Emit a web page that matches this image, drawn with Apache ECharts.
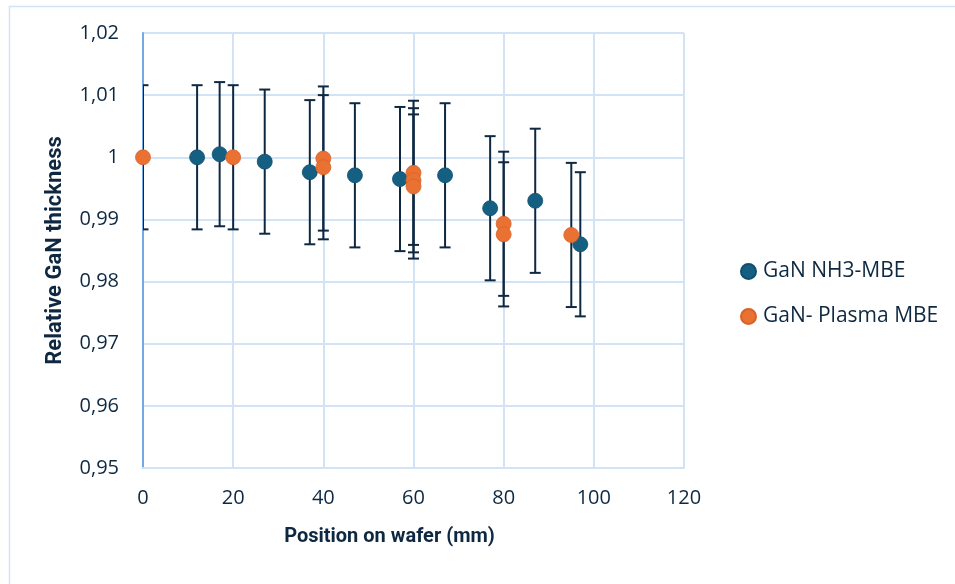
<!DOCTYPE html>
<html>
<head>
<meta charset="utf-8">
<script src="https://cdn.jsdelivr.net/npm/echarts@6/dist/echarts.min.js"></script>
<style>html,body{margin:0;padding:0;background:#fff}#c{width:955px;height:584px}</style>
</head>
<body>
<div id="c"></div>
<script>
// Data
const nh3Name = 'GaN NH3-MBE';
const nh3X = [12, 17, 27, 37, 47, 57, 67, 77, 87, 97];
const nh3Y = [1.0000, 1.0005, 0.9993, 0.9976, 0.9971, 0.9965, 0.9971, 0.9918, 0.9930, 0.9860];
const nh3Err = [0.0116, 0.0116, 0.0116, 0.0116, 0.0116, 0.0116, 0.0116, 0.0116, 0.0116, 0.0116];

const plasmaName = 'GaN- Plasma MBE';
const plasmaX = [0, 20, 40, 40, 60, 60, 60, 80, 80, 95];
const plasmaY = [1.0000, 1.0000, 0.9998, 0.9984, 0.9975, 0.9963, 0.9953, 0.9893, 0.9876, 0.9875];
const plasmaErr = [0.0116, 0.0116, 0.0116, 0.0116, 0.0116, 0.0116, 0.0116, 0.0116, 0.0116, 0.0116];

const xTitle = 'Position on wafer (mm)';
const yTitle = 'Relative GaN thickness';

const FONT = 'Open Sans';
const TFONT = 'Roboto';
const TXT = '#0E2841';
const GRID = '#d3e3f6';

function pts(xs, ys) { return xs.map((x, i) => [x, ys[i]]); }
function errData(xs, ys, es) { return xs.map((x, i) => [x, ys[i] - es[i], ys[i] + es[i]]); }

function errRender(params, api) {
  const x = api.value(0);
  const lo = api.coord([x, api.value(1)]);
  const hi = api.coord([x, api.value(2)]);
  const hw = 5.5;
  const st = { stroke: '#0E2841', lineWidth: 2 };
  return {
    type: 'group',
    children: [
      { type: 'line', shape: { x1: lo[0], y1: lo[1], x2: hi[0], y2: hi[1] }, style: st },
      { type: 'line', shape: { x1: lo[0] - hw, y1: lo[1], x2: lo[0] + hw, y2: lo[1] }, style: st },
      { type: 'line', shape: { x1: hi[0] - hw, y1: hi[1], x2: hi[0] + hw, y2: hi[1] }, style: st }
    ]
  };
}

function fmt(v) {
  return (Math.round(v * 100) / 100).toString().replace('.', ',');
}

const chart = echarts.init(document.getElementById('c'), null, { renderer: 'canvas' });
chart.setOption({
  animation: false,
  textStyle: { fontFamily: FONT, color: TXT },
  graphic: [{
    type: 'rect', left: 7, top: 4, shape: { width: 960, height: 579 },
    style: { fill: 'none', stroke: GRID, lineWidth: 1.5 }, silent: true, z: -10
  }],
  grid: { left: 143, right: 271, top: 33, bottom: 116, containLabel: false },
  legend: {
    orient: 'vertical', left: 735, top: 256, itemGap: 24, padding: 5,
    itemWidth: 15, itemHeight: 15,
    textStyle: { fontFamily: FONT, fontSize: 21, color: TXT, padding: [0, 0, 0, 2] },
    data: [{ name: nh3Name, icon: 'circle' }, { name: plasmaName, icon: 'circle' }]
  },
  xAxis: {
    type: 'value', min: 0, max: 120, interval: 20,
    name: xTitle, nameLocation: 'middle', nameGap: 59,
    nameTextStyle: { fontFamily: TFONT, fontWeight: 'bold', fontSize: 20, color: TXT, padding: [0, 48, 0, 0] },
    axisLine: { show: true, lineStyle: { color: GRID, width: 2 } },
    axisTick: { show: false },
    axisLabel: { fontFamily: FONT, fontSize: 20, color: TXT, margin: 20 },
    splitLine: { show: true, lineStyle: { color: GRID, width: 2 } }
  },
  yAxis: {
    type: 'value', min: 0.95, max: 1.02, interval: 0.01,
    name: yTitle, nameLocation: 'middle', nameGap: 77, nameRotate: 90,
    nameTextStyle: { fontFamily: TFONT, fontWeight: 'bold', fontSize: 22, color: TXT },
    axisLine: { show: true, lineStyle: { color: '#74a9e2', width: 2 } },
    axisTick: { show: false },
    axisLabel: { fontFamily: FONT, fontSize: 20, color: TXT, margin: 24, formatter: fmt },
    splitLine: { show: true, lineStyle: { color: GRID, width: 2 } }
  },
  series: [
    {
      name: nh3Name + ' err', type: 'custom', renderItem: errRender, clip: true,
      data: errData(nh3X, nh3Y, nh3Err), encode: { x: 0, y: [1, 2] }, z: 2, silent: true
    },
    {
      name: nh3Name, type: 'scatter', symbol: 'circle', symbolSize: 15,
      itemStyle: { color: '#156082', borderColor: '#0f4f6d', borderWidth: 0.8, opacity: 1 },
      data: pts(nh3X, nh3Y), z: 3
    },
    {
      name: plasmaName + ' err', type: 'custom', renderItem: errRender, clip: true,
      data: errData(plasmaX, plasmaY, plasmaErr), encode: { x: 0, y: [1, 2] }, z: 4, silent: true
    },
    {
      name: plasmaName, type: 'scatter', symbol: 'circle', symbolSize: 15,
      itemStyle: { color: '#E97132', borderColor: '#d9622a', borderWidth: 0.8, opacity: 1 },
      data: pts(plasmaX, plasmaY), z: 5
    }
  ]
});
</script>
</body>
</html>
